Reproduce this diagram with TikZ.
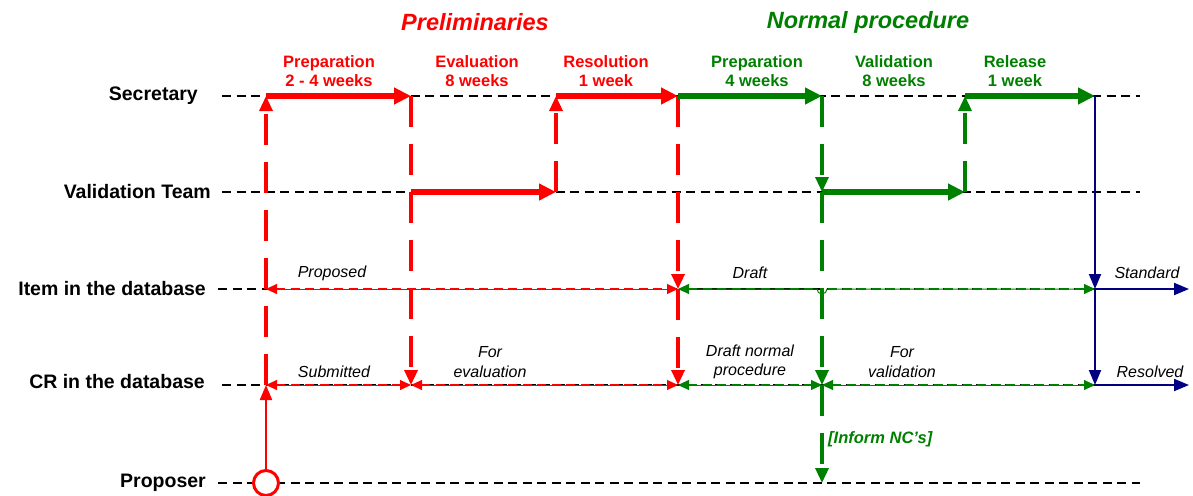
\documentclass[tikz,border=0pt]{standalone}
\usepackage{fontspec}
\setmainfont{Liberation Sans}
\usetikzlibrary{arrows.meta,calc}
\definecolor{cred}{RGB}{255,0,0}
\definecolor{cgreen}{RGB}{0,128,0}
\definecolor{cblue}{RGB}{0,0,128}
\tikzset{
  lane/.style={black, line width=2pt, dash pattern=on 9pt off 5.5pt},
  bigarrow/.style={line width=5.5pt, -{Triangle[length=17pt,width=16pt]}},
  vdash/.style={line width=3.3pt, dash pattern=on 31pt off 17pt, -{Triangle[length=15pt,width=13pt]}},
  stateline/.style={line width=1pt, {Triangle[length=11pt,width=10pt]}-{Triangle[length=11pt,width=10pt]}},
  statedash/.style={line width=2pt, dash pattern=on 9pt off 5.5pt, shorten <=10pt, shorten >=10pt},
  lanelabel/.style={anchor=east, inner sep=0pt, font=\fontsize{19.5}{23}\selectfont\bfseries},
  phase/.style={align=center, inner sep=0pt, font=\fontsize{16.5}{19}\selectfont\bfseries},
  title/.style={inner sep=0pt, font=\fontsize{23.5}{27}\selectfont\bfseries\itshape},
  statelabel/.style={align=center, inner sep=0pt, font=\fontsize{16}{19.5}\selectfont\itshape},
  bluearrow/.style={cblue, line width=2pt, -{Triangle[length=15pt,width=12pt]}},
}
\begin{document}
\begin{tikzpicture}[x=1pt, y=-1pt]
\useasboundingbox (0,0) rectangle (1193,495);
\fill[white] (0,0) rectangle (1193,495);

% lane labels
\node[lanelabel] (lsec) at (198,96) {Secretary};
\node[lanelabel] (lval) at (211,192) {Validation Team};
\node[lanelabel] (litem) at (206,289) {Item in the database};
\node[lanelabel] (lcr) at (205,382) {CR in the database};
\node[lanelabel] (lprop) at (206,483) {Proposer};

% lane ends
\coordinate (secA) at (222,96);   \coordinate (secB) at (1140,96);
\coordinate (valA) at (222,192);  \coordinate (valB) at (1140,192);
\coordinate (itemA) at (218,289); \coordinate (itemB) at (1095,289);
\coordinate (crA) at (222,385);   \coordinate (crB) at (1095,385);
\coordinate (propA) at (218,483); \coordinate (propB) at (1140,483);

% junction coordinates
\foreach \n/\x in {0/266,1/411,2/556,3/678,4/822,5/965,6/1095}{
  \coordinate (s\n) at (\x,96);
  \coordinate (v\n) at (\x,192);
  \coordinate (i\n) at (\x,289);
  \coordinate (c\n) at (\x,385);
  \coordinate (p\n) at (\x,483);
}
\coordinate (stdEnd) at (1189,289);
\coordinate (resEnd) at (1189,385);
\coordinate (hopL) at (816,289);
\coordinate (hopR) at (828,289);

% lanes
\draw[lane] (secA) -- (secB);
\draw[lane] (valA) -- (valB);
\draw[lane] (itemA) -- (itemB);
\draw[lane] (crA) -- (crB);
\draw[lane] (propA) -- (propB);

% titles
\node[title, text=cred] (tprel) at (475,22) {Preliminaries};
\node[title, text=cgreen] (tnorm) at (868,22) {Normal procedure};

% phase labels
\node[phase, text=cred] (ph1) at (329,71) {Preparation\\2 - 4 weeks};
\node[phase, text=cred] (ph2) at (477,71) {Evaluation\\8 weeks};
\node[phase, text=cred] (ph3) at (606,71) {Resolution\\1 week};
\node[phase, text=cgreen] (ph4) at (757,71) {Preparation\\4 weeks};
\node[phase, text=cgreen] (ph5) at (894,71) {Validation\\8 weeks};
\node[phase, text=cgreen] (ph6) at (1015,71) {Release\\1 week};

% state lines: item
\draw[stateline, cred] (i0) -- (i3);
\draw[statedash, cred] (i0) -- (i3);
\draw[stateline, cgreen] (i3) -- ($(i4)+(-5,0)$) arc (180:0:5) -- (i6);
\draw[statedash, cgreen, shorten >=0pt] (i3) -- (hopL);
\draw[statedash, cgreen, shorten <=0pt] (hopR) -- (i6);
% state lines: CR
\draw[stateline, cred] (c0) -- (c1);
\draw[statedash, cred] (c0) -- (c1);
\draw[stateline, cred] (c1) -- (c3);
\draw[statedash, cred] (c1) -- (c3);
\draw[stateline, cgreen] (c3) -- (c4);
\draw[statedash, cgreen] (c3) -- (c4);
\draw[stateline, cgreen] (c4) -- (c6);
\draw[statedash, cgreen] (c4) -- (c6);

% state labels
\node[statelabel] (lbProp) at (332,273) {Proposed};
\node[statelabel] (lbDraft) at (750,273) {Draft};
\node[statelabel] (lbStd) at (1147,273) {Standard};
\node[statelabel] (lbSub) at (334,372) {Submitted};
\node[statelabel] (lbEval) at (490,362) {For\\evaluation};
\node[statelabel] (lbDnp) at (750,362) {Draft normal\\procedure};
\node[statelabel] (lbVal) at (902,362) {For\\validation};
\node[statelabel] (lbRes) at (1150,372) {Resolved};
\node[inner sep=0pt, anchor=west, text=cgreen, font=\fontsize{16.5}{19}\selectfont\bfseries\itshape] (lbInf) at (828,439) {[Inform NC's]};

% proposer start
\node[circle, draw=cred, line width=3pt, fill=white, minimum size=25pt, inner sep=0pt] (start) at (p0) {};
\draw[cred, line width=2pt, -{Triangle[length=15pt,width=12pt]}] (start.north) -- (c0);

% red verticals
\draw[vdash, cred] (c0) -- (s0);
\draw[vdash, cred] (s1) -- (c1);
\draw[vdash, cred] (v2) -- (s2);
\draw[vdash, cred] (s3) -- (i3);
\draw[vdash, cred] (i3) -- (c3);

% green verticals
\draw[vdash, cgreen] (s4) -- (v4);
\draw[vdash, cgreen] (v4) -- (c4);
\draw[vdash, cgreen] (c4) -- (p4);
\draw[vdash, cgreen] (v5) -- (s5);

% blue
\draw[bluearrow] (s6) -- (i6);
\draw[bluearrow] (i6) -- (c6);
\draw[bluearrow] (i6) -- (stdEnd);
\draw[bluearrow] (c6) -- (resEnd);

% thick arrows
\draw[bigarrow, cred] (s0) -- (s1);
\draw[bigarrow, cred] (v1) -- (v2);
\draw[bigarrow, cred] (s2) -- (s3);
\draw[bigarrow, cgreen] (s3) -- (s4);
\draw[bigarrow, cgreen] (v4) -- (v5);
\draw[bigarrow, cgreen] (s5) -- (s6);
\end{tikzpicture}
\end{document}
